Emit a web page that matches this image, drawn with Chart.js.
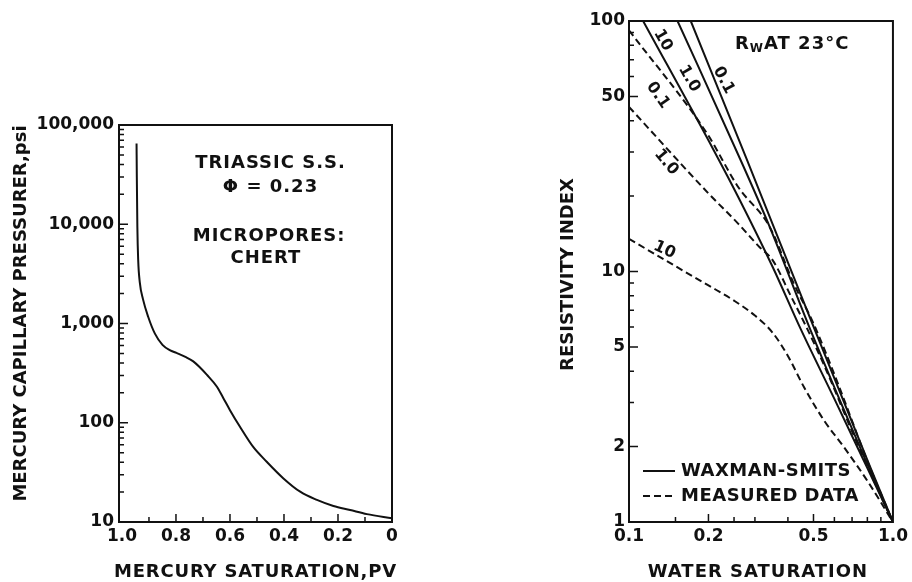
<!DOCTYPE html>
<html>
<head>
<meta charset="utf-8">
<script src="https://cdn.jsdelivr.net/npm/chart.js@4.4.0/dist/chart.umd.min.js"></script>
<style>
  html, body { margin: 0; padding: 0; background: #fff; }
  #wrap { position: relative; width: 912px; height: 582px; }
  #cLeft { position: absolute; left: 0; top: 0; }
  #cRight { position: absolute; left: 460px; top: 0; }
</style>
</head>
<body>
<div id="wrap">
  <canvas id="cLeft" width="460" height="582"></canvas>
  <canvas id="cRight" width="452" height="582"></canvas>
</div>
<script>
// ---- left panel : mercury capillary pressure curve ----
var mercurySat = [0.946, 0.945, 0.943, 0.940, 0.934, 0.922, 0.903, 0.878, 0.850, 0.823, 0.798, 0.765, 0.736, 0.711, 0.686, 0.649, 0.625, 0.600, 0.563, 0.514, 0.464, 0.402, 0.340, 0.278, 0.217, 0.155, 0.093, 0.0];
var capPressure = [65000, 30000, 9400, 4400, 2600, 1750, 1170, 790, 610, 540, 505, 460, 415, 360, 305, 232, 178, 134, 91, 57, 40.5, 27.5, 20.2, 16.7, 14.5, 13.2, 12.0, 10.9];
var leftXLabels = [1.0, 0.8, 0.6, 0.4, 0.2, 0];
var leftYLabels = [10, 100, 1000, 10000, 100000];

// ---- right panel : resistivity index vs water saturation ----
// Waxman-Smits (solid), Rw = 0.1, 1.0, 10
var wsSw01 = [0.1714, 0.2787, 0.501, 0.816, 1.0];
var wsRI01 = [100, 28.2, 6.0, 1.68, 1];
var wsSw1 = [0.1527, 0.2634, 0.34, 0.485, 0.80, 1.0];
var wsRI1 = [100, 28.2, 15.2, 5.9, 1.7, 1];
var wsSw10 = [0.1131, 0.2094, 0.2596, 0.3506, 0.447, 0.60, 0.80, 1.0];
var wsRI10 = [100, 30.5, 19.8, 10.4, 5.9, 3.1, 1.64, 1];
// measured data (dashed)
var mdSw01 = [0.1, 0.1977, 0.2596, 0.3408, 0.42, 0.50, 0.62, 0.80, 1.0];
var mdRI01 = [91.8, 35.5, 21.7, 15.1, 9.0, 6.2, 3.55, 1.75, 1];
var mdSw1 = [0.1, 0.2, 0.2596, 0.3126, 0.35, 0.41, 0.47, 0.55, 0.70, 0.85, 1.0];
var mdRI1 = [45.4, 20.5, 15.5, 12.5, 11.1, 8.0, 6.0, 4.2, 2.3, 1.45, 1];
var mdSw10 = [0.1, 0.15, 0.2, 0.25, 0.3, 0.35, 0.4, 0.46, 0.55, 0.65, 0.8, 1.0];
var mdRI10 = [13.5, 10.5, 8.8, 7.65, 6.67, 5.7, 4.6, 3.46, 2.53, 2.0, 1.46, 1];
var rightXLabels = [0.1, 0.2, 0.5, 1.0];
var rightYLabels = [1, 2, 5, 10, 50, 100];

var INK = '#111';
var FONT = 'DejaVu Sans';

function pts(xs, ys) {
  return xs.map(function(x, i) { return { x: x, y: ys[i] }; });
}

function logMinor(lo, hi, skip) {
  var out = [];
  for (var d = lo; d < hi; d *= 10) {
    for (var m = 2; m <= 9; m++) {
      var v = Math.round(d * m * 1000) / 1000;
      if (skip.indexOf(v) < 0) out.push(v);
    }
  }
  return out;
}

// frame + inward tick marks
var framePlugin = {
  id: 'frame',
  afterDatasetsDraw: function(chart, args, opts) {
    var ctx = chart.ctx, a = chart.chartArea;
    var xs = chart.scales.x, ys = chart.scales.y;
    ctx.save();
    ctx.strokeStyle = INK;
    ctx.lineWidth = 2;
    ctx.strokeRect(a.left, a.top, a.right - a.left, a.bottom - a.top);
    ctx.lineWidth = 1.5;
    ctx.beginPath();
    opts.xMinor.forEach(function(v) {
      var p = xs.getPixelForValue(v);
      ctx.moveTo(p, a.bottom); ctx.lineTo(p, a.bottom - 5);
    });
    opts.xMajor.forEach(function(v) {
      var p = xs.getPixelForValue(v);
      ctx.moveTo(p, a.bottom); ctx.lineTo(p, a.bottom - 8);
    });
    opts.yMinor.forEach(function(v) {
      var p = ys.getPixelForValue(v);
      ctx.moveTo(a.left, p); ctx.lineTo(a.left + 5, p);
    });
    opts.yMajor.forEach(function(v) {
      var p = ys.getPixelForValue(v);
      ctx.moveTo(a.left, p); ctx.lineTo(a.left + 9, p);
    });
    ctx.stroke();
    ctx.restore();
  }
};

// text notes placed in data coordinates, axis titles and key
var notesPlugin = {
  id: 'notes',
  afterDraw: function(chart, args, opts) {
    var ctx = chart.ctx;
    var xs = chart.scales.x, ys = chart.scales.y;
    (opts.items || []).forEach(function(n) {
      var px = xs.getPixelForValue(n.x), py = ys.getPixelForValue(n.y);
      ctx.save();
      ctx.translate(px, py);
      ctx.rotate((n.rot || 0) * Math.PI / 180);
      ctx.fillStyle = INK;
      ctx.textBaseline = 'middle';
      ctx.letterSpacing = (n.ls || 0) + 'px';
      if (n.parts) {
        ctx.textAlign = 'left';
        var cx = 0;
        n.parts.forEach(function(p) {
          ctx.font = 'bold ' + p.size + 'px "' + FONT + '"';
          ctx.fillText(p.t, cx, p.dy || 0);
          cx += ctx.measureText(p.t).width;
        });
      } else {
        ctx.textAlign = n.align || 'center';
        ctx.font = 'bold ' + (n.size || 17) + 'px "' + FONT + '"';
        ctx.fillText(n.text, 0, 0);
      }
      ctx.restore();
    });
    // axis titles, centred on the plot area
    var a = chart.chartArea;
    (opts.titles || []).forEach(function(t) {
      ctx.save();
      ctx.fillStyle = INK;
      ctx.font = 'bold ' + t.size + 'px "' + FONT + '"';
      ctx.letterSpacing = (t.ls || 0) + 'px';
      ctx.textAlign = 'center';
      ctx.textBaseline = 'middle';
      if (t.axis === 'x') {
        ctx.translate((a.left + a.right) / 2 + (t.dx || 0), a.bottom + t.off);
      } else {
        ctx.translate(a.left - t.off, (a.top + a.bottom) / 2 + (t.dy || 0));
        ctx.rotate(-Math.PI / 2);
      }
      ctx.fillText(t.text, 0, 0);
      ctx.restore();
    });
    if (opts.key) {
      ctx.save();
      ctx.strokeStyle = INK;
      ctx.fillStyle = INK;
      ctx.lineWidth = 2;
      ctx.font = 'bold 18px "' + FONT + '"';
      ctx.letterSpacing = '0.5px';
      ctx.textBaseline = 'middle';
      opts.key.forEach(function(k, i) {
        var y = a.bottom - 51 + i * 25;
        ctx.setLineDash(k.dash);
        ctx.beginPath();
        ctx.moveTo(a.left + 14, y);
        ctx.lineTo(a.left + 46, y);
        ctx.stroke();
        ctx.fillText(k.text, a.left + 52, y);
      });
      ctx.restore();
    }
  }
};

function tickFont() {
  return { family: FONT, weight: 'bold', size: 17 };
}

function lineSet(data, dash) {
  return {
    data: data,
    borderColor: INK,
    borderWidth: 2,
    borderDash: dash || [],
    pointRadius: 0,
    fill: false,
    cubicInterpolationMode: 'monotone'
  };
}

// ---- left chart ----
new Chart(document.getElementById('cLeft'), {
  type: 'line',
  data: { datasets: [lineSet(pts(mercurySat, capPressure))] },
  options: {
    responsive: false,
    animation: false,
    events: [],
    layout: { padding: { left: 0, right: 68, top: 125, bottom: 0 } },
    plugins: {
      legend: { display: false },
      tooltip: { enabled: false },
      frame: {
        xMinor: [0.9, 0.7, 0.5, 0.3, 0.1],
        xMajor: [0.8, 0.6, 0.4, 0.2],
        yMinor: logMinor(10, 100000, []),
        yMajor: [100, 1000, 10000]
      },
      notes: {
        items: [
          { text: 'TRIASSIC S.S.', x: 0.45, y: 41000, size: 18, ls: 1 },
          { text: 'Φ = 0.23', x: 0.45, y: 23600, size: 18, ls: 1 },
          { text: 'MICROPORES:', x: 0.455, y: 7600, size: 18, ls: 1 },
          { text: 'CHERT', x: 0.467, y: 4540, size: 18, ls: 1 }
        ],
        titles: [
          { axis: 'x', text: 'MERCURY SATURATION,PV', size: 18, ls: 0.8, off: 50 },
          { axis: 'y', text: 'MERCURY CAPILLARY PRESSURER,psi', size: 18, ls: 0, off: 98, dy: -10 }
        ]
      }
    },
    scales: {
      x: {
        type: 'linear',
        min: 0, max: 1.011, reverse: true,
        afterBuildTicks: function(s) { s.ticks = leftXLabels.map(function(v) { return { value: v }; }); },
        afterFit: function(s) { s.height = 60; },
        grid: { display: false, drawTicks: false },
        border: { display: false },
        ticks: {
          autoSkip: false, maxRotation: 0, padding: 4, color: INK, font: tickFont(),
          callback: function(v) { return v === 0 ? '0' : Number(v).toFixed(1); }
        }
      },
      y: {
        type: 'logarithmic',
        min: 10, max: 100000,
        afterBuildTicks: function(s) { s.ticks = leftYLabels.map(function(v) { return { value: v }; }); },
        afterFit: function(s) { s.width = 119; },
        grid: { display: false, drawTicks: false },
        border: { display: false },
        ticks: {
          autoSkip: false, padding: 5, color: INK, font: tickFont(),
          callback: function(v) { return Number(v).toLocaleString('en-US'); }
        }
      }
    }
  },
  plugins: [framePlugin, notesPlugin]
});

// ---- right chart ----
new Chart(document.getElementById('cRight'), {
  type: 'line',
  data: {
    datasets: [
      lineSet(pts(wsSw01, wsRI01)),
      lineSet(pts(wsSw1, wsRI1)),
      lineSet(pts(wsSw10, wsRI10)),
      lineSet(pts(mdSw01, mdRI01), [7, 4]),
      lineSet(pts(mdSw1, mdRI1), [7, 4]),
      lineSet(pts(mdSw10, mdRI10), [7, 4])
    ]
  },
  options: {
    responsive: false,
    animation: false,
    events: [],
    layout: { padding: { left: 0, right: 15, top: 21, bottom: 0 } },
    plugins: {
      legend: { display: false },
      tooltip: { enabled: false },
      frame: {
        xMinor: [0.15, 0.25, 0.3, 0.4, 0.6, 0.7, 0.8, 0.9],
        xMajor: [0.2, 0.5],
        yMinor: logMinor(1, 100, [2, 5, 50]),
        yMajor: [2, 5, 10, 50]
      },
      notes: {
        items: [
          { x: 0.252, y: 81, parts: [
            { t: 'R', size: 18 }, { t: 'W', size: 12, dy: 5 }, { t: 'AT 23°C', size: 18 }
          ], ls: 1 },
          { text: '10', x: 0.1343, y: 83.8, rot: 60, size: 16 },
          { text: '1.0', x: 0.169, y: 58.9, rot: 60, size: 16 },
          { text: '0.1', x: 0.228, y: 58, rot: 62, size: 16 },
          { text: '0.1', x: 0.1286, y: 50.5, rot: 55, size: 16 },
          { text: '1.0', x: 0.1383, y: 27.3, rot: 50, size: 16 },
          { text: '10', x: 0.1362, y: 12.2, rot: 25, size: 16 }
        ],
        titles: [
          { axis: 'x', text: 'WATER SATURATION', size: 18, ls: 1, off: 50, dx: -3 },
          { axis: 'y', text: 'RESISTIVITY INDEX', size: 18, ls: 0, off: 61, dy: 3 }
        ],
        key: [
          { text: 'WAXMAN-SMITS', dash: [] },
          { text: 'MEASURED DATA', dash: [7, 4] }
        ]
      }
    },
    scales: {
      x: {
        type: 'logarithmic',
        min: 0.1, max: 1,
        afterBuildTicks: function(s) { s.ticks = rightXLabels.map(function(v) { return { value: v }; }); },
        afterFit: function(s) { s.height = 60; },
        grid: { display: false, drawTicks: false },
        border: { display: false },
        ticks: {
          autoSkip: false, maxRotation: 0, padding: 4, color: INK, font: tickFont(),
          callback: function(v) { return Number(v).toFixed(1); }
        }
      },
      y: {
        type: 'logarithmic',
        min: 1, max: 100,
        afterBuildTicks: function(s) { s.ticks = rightYLabels.map(function(v) { return { value: v }; }); },
        afterFit: function(s) { s.width = 169; },
        grid: { display: false, drawTicks: false },
        border: { display: false },
        ticks: {
          autoSkip: false, padding: 4, color: INK, font: tickFont(),
          callback: function(v) { return String(v); }
        }
      }
    }
  },
  plugins: [framePlugin, notesPlugin]
});
</script>
</body>
</html>
